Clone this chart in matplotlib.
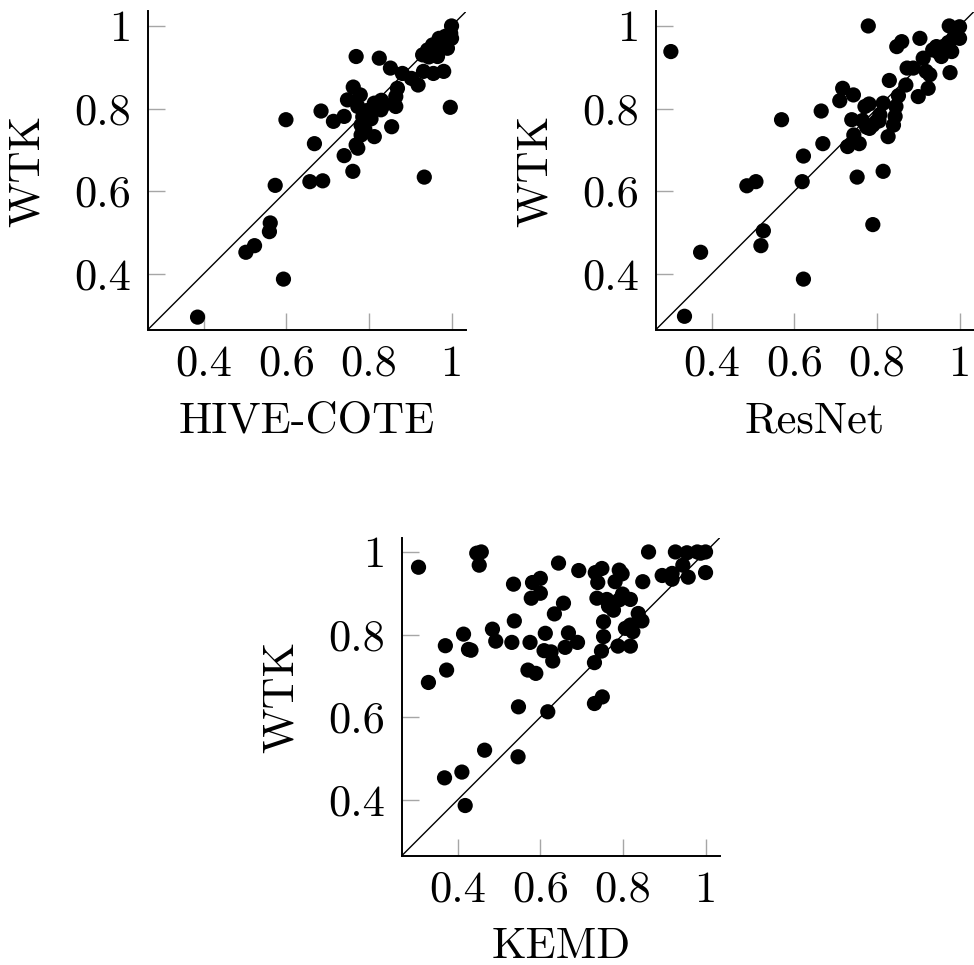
import matplotlib
matplotlib.use("Agg")
import matplotlib.pyplot as plt
import numpy as np

# ---------------- data ----------------
hc_x = [0.385, 0.593, 0.502, 0.523, 0.559, 0.561, 0.573, 0.599, 0.657, 0.688,
        0.668, 0.684, 0.714, 0.740, 0.740, 0.761, 0.769, 0.748, 0.762, 0.779,
        0.773, 0.769, 0.773, 0.781, 0.781, 0.790, 0.801, 0.813, 0.813, 0.825,
        0.829, 0.837, 0.852, 0.855, 0.865, 0.865, 0.869, 0.881, 0.903, 0.919,
        0.932, 0.956, 0.981, 0.934, 0.997, 0.930, 0.942, 0.954, 0.970, 0.982,
        1.000, 0.998, 1.000, 0.966, 0.990, 0.795, 0.805, 0.790, 0.945, 0.960,
        0.975, 0.985, 0.940, 0.830, 0.785]
hc_y = [0.295, 0.387, 0.452, 0.468, 0.502, 0.523, 0.614, 0.773, 0.623, 0.625,
        0.715, 0.794, 0.769, 0.781, 0.686, 0.648, 0.926, 0.821, 0.852, 0.833,
        0.805, 0.712, 0.704, 0.736, 0.760, 0.773, 0.785, 0.732, 0.813, 0.922,
        0.797, 0.810, 0.898, 0.756, 0.805, 0.829, 0.849, 0.885, 0.873, 0.857,
        0.890, 0.885, 0.890, 0.634, 0.803, 0.930, 0.942, 0.954, 0.970, 0.962,
        1.000, 0.982, 0.970, 0.926, 0.946, 0.795, 0.775, 0.750, 0.925, 0.945,
        0.955, 0.975, 0.935, 0.820, 0.780]

rn_x = [0.301, 0.334, 0.373, 0.485, 0.507, 0.525, 0.519, 0.569, 0.622, 0.619,
        0.622, 0.669, 0.665, 0.717, 0.710, 0.743, 0.729, 0.744, 0.757, 0.739,
        0.752, 0.765, 0.771, 0.779, 0.781, 0.782, 0.790, 0.799, 0.807, 0.815,
        0.815, 0.827, 0.830, 0.840, 0.844, 0.846, 0.852, 0.848, 0.860, 0.870,
        0.873, 0.888, 0.900, 0.904, 0.912, 0.919, 0.924, 0.928, 0.935, 0.944,
        0.956, 0.960, 0.977, 0.975, 0.981, 0.985, 1.000, 1.000, 0.973, 0.790,
        0.775, 0.805, 0.950, 0.965]
rn_y = [0.938, 0.297, 0.452, 0.613, 0.623, 0.504, 0.468, 0.773, 0.387, 0.623,
        0.685, 0.715, 0.794, 0.849, 0.819, 0.833, 0.708, 0.736, 0.715, 0.773,
        0.634, 0.771, 0.805, 1.000, 0.811, 0.752, 0.519, 0.769, 0.785, 0.648,
        0.813, 0.732, 0.868, 0.760, 0.781, 0.805, 0.831, 0.950, 0.962, 0.857,
        0.898, 0.898, 0.829, 0.970, 0.922, 0.890, 0.849, 0.882, 0.942, 0.950,
        0.926, 0.950, 0.887, 1.000, 0.938, 0.970, 0.998, 0.970, 0.960, 0.760,
        0.755, 0.770, 0.935, 0.945]

km_x = [0.305, 0.329, 0.368, 0.370, 0.373, 0.410, 0.414, 0.418, 0.426, 0.432,
        0.446, 0.457, 0.452, 0.465, 0.484, 0.492, 0.531, 0.535, 0.537, 0.546,
        0.547, 0.570, 0.575, 0.578, 0.581, 0.589, 0.600, 0.600, 0.612, 0.609,
        0.618, 0.626, 0.630, 0.634, 0.644, 0.656, 0.660, 0.668, 0.690, 0.693,
        0.731, 0.731, 0.733, 0.737, 0.739, 0.748, 0.749, 0.750, 0.753, 0.753,
        0.761, 0.765, 0.777, 0.781, 0.788, 0.791, 0.798, 0.799, 0.791, 0.806,
        0.818, 0.818, 0.818, 0.824, 0.837, 0.846, 0.848, 0.862, 0.895, 0.919,
        0.919, 0.927, 0.945, 0.955, 0.958, 0.980, 1.000, 1.000, 0.988]
km_y = [0.963, 0.684, 0.453, 0.773, 0.714, 0.467, 0.801, 0.386, 0.764, 0.762,
        0.997, 1.000, 0.968, 0.520, 0.813, 0.784, 0.781, 0.922, 0.833, 0.504,
        0.625, 0.714, 0.781, 0.888, 0.926, 0.706, 0.936, 0.900, 0.803, 0.761,
        0.613, 0.758, 0.736, 0.850, 0.973, 0.876, 0.769, 0.804, 0.781, 0.955,
        0.732, 0.633, 0.950, 0.888, 0.926, 0.760, 0.960, 0.649, 0.831, 0.795,
        0.885, 0.869, 0.859, 0.928, 0.772, 0.956, 0.947, 0.898, 0.884, 0.815,
        0.885, 0.772, 0.823, 0.807, 0.851, 0.833, 0.928, 1.000, 0.943, 0.948,
        0.934, 1.000, 0.968, 0.998, 0.939, 1.000, 1.000, 0.950, 0.997]

x_labels = ["HIVE-COTE", "ResNet", "KEMD"]
y_label = "WTK"
tick_vals = [0.4, 0.6, 0.8, 1.0]
tick_text = ["0.4", "0.6", "0.8", "1"]
lim = (0.265, 1.035)

# ---------------- style ----------------
plt.rcParams["font.family"] = ["cmr10", "DejaVu Serif"]
plt.rcParams["axes.formatter.use_mathtext"] = True
FS = 32

fig = plt.figure(figsize=(9.74, 9.65), dpi=100)
W = 318 / 974
H = 318 / 965
positions = [
    (148 / 974, (965 - 329.5) / 965),
    (656 / 974, (965 - 329.5) / 965),
    (402 / 974, (965 - 855.5) / 965),
]
datasets = [(hc_x, hc_y), (rn_x, rn_y), (km_x, km_y)]

for (l, b), (xs, ys), xl in zip(positions, datasets, x_labels):
    ax = fig.add_axes([l, b, W, H])
    ax.plot(lim, lim, color="black", lw=1.0, zorder=2)
    ax.scatter(xs, ys, s=120, color="black", edgecolors="none", zorder=3,
               clip_on=False)
    ax.set_xlim(lim)
    ax.set_ylim(lim)
    for side in ("top", "right"):
        ax.spines[side].set_visible(False)
    for side in ("left", "bottom"):
        ax.spines[side].set_linewidth(1.4)
        ax.spines[side].set_color("black")
    ax.set_xticks(tick_vals)
    ax.set_xticklabels(tick_text)
    ax.set_yticks(tick_vals)
    ax.set_yticklabels(tick_text)
    ax.tick_params(direction="in", length=12.5, width=1.0, color="#a6a6a6",
                   labelsize=FS, labelcolor="black")
    ax.tick_params(axis="x", pad=11)
    ax.tick_params(axis="y", pad=12)
    ax.set_xlabel(xl, fontsize=FS)
    ax.set_ylabel(y_label, fontsize=FS)
    ax.xaxis.set_label_coords(0.5, -0.225)
    ax.yaxis.set_label_coords(-0.315, 0.5)
    ax.patch.set_visible(False)

fig.savefig("out.png", dpi=100)
